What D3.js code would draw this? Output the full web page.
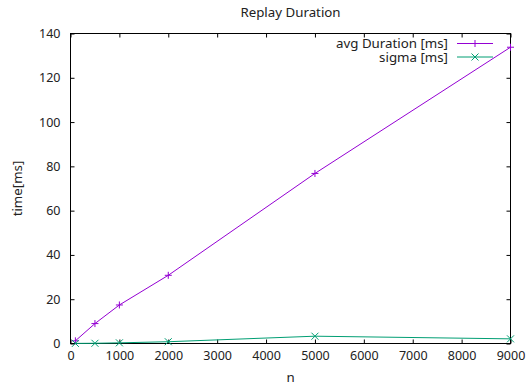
<!DOCTYPE html>
<html lang="en">
<head>
<meta charset="UTF-8">
<title>Replay Duration</title>
<script src="https://d3js.org/d3.v7.min.js"></script>
<style>
  body { margin: 0; background: #fff; }
  svg { display: block; font-family: "Noto Sans", sans-serif; }
</style>
</head>
<body>
<svg id="chart" width="527" height="387"></svg>
<script>
// data
const nValues = [100, 500, 1000, 2000, 5000, 9000];
const avgDuration = [1.2, 9.0, 17.4, 30.8, 76.8, 133.8];
const sigma = [0.05, 0.1, 0.3, 0.8, 3.3, 2.1];
const xTicks = [0, 1000, 2000, 3000, 4000, 5000, 6000, 7000, 8000, 9000];
const yTicks = [0, 20, 40, 60, 80, 100, 120, 140];
const seriesNames = ["avg Duration [ms]", "sigma [ms]"];

const width = 527, height = 387;
const margin = {left: 70.5, right: 16.5, top: 33.5, bottom: 43.5};
const fontSize = 13.3;

const svg = d3.select("#chart");

const x = d3.scaleLinear().domain([0, 9000]).range([margin.left, width - margin.right]);
const y = d3.scaleLinear().domain([0, 140]).range([height - margin.bottom, margin.top]);

const tickLen = 4;
const fmt = d3.format("d");

// axes: ticks pointing inward, mirrored on top/right
svg.append("g")
    .attr("transform", `translate(0,${y(0)})`)
    .call(d3.axisBottom(x).tickValues(xTicks).tickFormat(fmt).tickSizeInner(-tickLen).tickSizeOuter(0).tickPadding(8))
    .call(g => g.select(".domain").remove());
svg.append("g")
    .attr("transform", `translate(0,${y(140)})`)
    .call(d3.axisTop(x).tickValues(xTicks).tickSizeInner(-tickLen).tickSizeOuter(0).tickFormat(""))
    .call(g => g.select(".domain").remove());
svg.append("g")
    .attr("transform", `translate(${x(0)},0)`)
    .call(d3.axisLeft(y).tickValues(yTicks).tickFormat(fmt).tickSizeInner(-tickLen).tickSizeOuter(0).tickPadding(10))
    .call(g => g.select(".domain").remove());
svg.append("g")
    .attr("transform", `translate(${x(9000)},0)`)
    .call(d3.axisRight(y).tickValues(yTicks).tickSizeInner(-tickLen).tickSizeOuter(0).tickFormat(""))
    .call(g => g.select(".domain").remove());

svg.selectAll(".tick text")
    .attr("font-family", "Noto Sans, sans-serif")
    .attr("font-size", 12.5)
    .attr("fill", "#222");
svg.selectAll(".tick line").attr("stroke", "#000");

// border
svg.append("rect")
    .attr("x", x(0)).attr("y", y(140))
    .attr("width", x(9000) - x(0)).attr("height", y(0) - y(140))
    .attr("fill", "none").attr("stroke", "#000").attr("stroke-width", 1);

// titles
svg.append("text")
    .attr("x", (x(0) + x(9000)) / 2).attr("y", 17)
    .attr("text-anchor", "middle").attr("font-size", fontSize).attr("fill", "#222")
    .text("Replay Duration");
svg.append("text")
    .attr("x", (x(0) + x(9000)) / 2).attr("y", 382)
    .attr("text-anchor", "middle").attr("font-size", fontSize).attr("fill", "#222")
    .text("n");
svg.append("text")
    .attr("transform", `translate(22,${(y(0) + y(140)) / 2}) rotate(-90)`)
    .attr("text-anchor", "middle").attr("font-size", fontSize).attr("fill", "#222")
    .text("time[ms]");

const colors = ["#9400d3", "#009e73"];
const seriesData = [avgDuration, sigma];
const line = d3.line().x(d => x(d[0])).y(d => y(d[1]));

function plusMark(g, px, py, s) {
  g.append("path").attr("d", `M${px - s},${py}H${px + s}M${px},${py - s}V${py + s}`);
}
function crossMark(g, px, py, s) {
  g.append("path").attr("d", `M${px - s},${py - s}L${px + s},${py + s}M${px - s},${py + s}L${px + s},${py - s}`);
}
const marks = [plusMark, crossMark];

seriesData.forEach((vals, i) => {
  const pts = nValues.map((n, j) => [n, vals[j]]);
  const g = svg.append("g").attr("fill", "none").attr("stroke", colors[i]).attr("stroke-width", 1);
  g.append("path").attr("d", line(pts));
  pts.forEach(p => marks[i](g, x(p[0]), y(p[1]), 3.5));

  // legend (same tight row spacing as the reference)
  const ly = 43.5 + i * 13.5;
  svg.append("text")
      .attr("x", 448).attr("y", ly + 4.5)
      .attr("text-anchor", "end").attr("font-size", fontSize).attr("fill", "#222")
      .text(seriesNames[i]);
  const lg = svg.append("g").attr("fill", "none").attr("stroke", colors[i]).attr("stroke-width", 1);
  lg.append("path").attr("d", `M457,${ly}H493`);
  marks[i](lg, 475, ly, 3.5);
});
</script>
</body>
</html>
